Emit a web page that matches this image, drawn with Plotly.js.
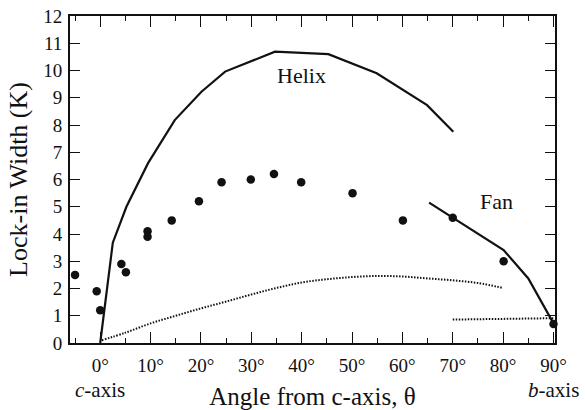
<!DOCTYPE html>
<html>
<head>
<meta charset="utf-8">
<script src="https://cdn.plot.ly/plotly-3.0.1.min.js"></script>
<style>html,body{margin:0;padding:0;background:#fff;}#chart{width:585px;height:410px;}</style>
</head>
<body>
<div id="chart"></div>
<script>
// Measured points (dots)
const dataTheta = [-5, -0.7, 0, 4.2, 5.1, 9.4, 9.4, 14.2, 19.6, 24.1, 29.9, 34.5, 39.9, 50.1, 60.1, 70.0, 80.1, 90.0];
const dataWidth = [2.5, 1.9, 1.2, 2.9, 2.6, 4.1, 3.9, 4.5, 5.2, 5.9, 6.0, 6.2, 5.9, 5.5, 4.5, 4.6, 3.0, 0.7];

// Helix curve (solid)
const helixTheta = [0, 2.5, 5.2, 9.5, 14.8, 20.1, 24.8, 34.7, 45.3, 54.9, 64.9, 70.1];
const helixWidth = [0, 3.68, 5.0, 6.6, 8.18, 9.22, 9.96, 10.69, 10.6, 9.9, 8.73, 7.75];

// Fan curve (solid)
const fanTheta = [65.3, 70.1, 80.1, 85.0, 90.0];
const fanWidth = [5.15, 4.58, 3.41, 2.37, 0.72];

// Dotted curve (long)
const dot1Theta = [0.3, 5, 10, 15, 20, 25, 30, 35, 40, 45, 50, 55, 60, 65, 70, 75, 80];
const dot1Width = [0.1, 0.38, 0.72, 1.0, 1.27, 1.52, 1.78, 2.02, 2.22, 2.34, 2.42, 2.46, 2.44, 2.37, 2.3, 2.2, 2.02];

// Dotted curve (short, near b-axis)
const dot2Theta = [70, 75, 80, 85, 90];
const dot2Width = [0.86, 0.87, 0.88, 0.89, 0.91];

const xTickVals = [0, 10, 20, 30, 40, 50, 60, 70, 80, 90];
const xTickText = ['0°', '10°', '20°', '30°', '40°', '50°', '60°', '70°', '80°', '90°'];

const ink = '#111';
const serif = '"Liberation Serif", "Times New Roman", Times, serif';

const traces = [
  {x: helixTheta, y: helixWidth, mode: 'lines', line: {color: ink, width: 2.2}},
  {x: fanTheta, y: fanWidth, mode: 'lines', line: {color: ink, width: 2.2}},
  {x: dot1Theta, y: dot1Width, mode: 'lines', line: {color: ink, width: 2, dash: '1.5px,1.5px', shape: 'spline'}},
  {x: dot2Theta, y: dot2Width, mode: 'lines', line: {color: ink, width: 2, dash: '1.5px,1.5px'}},
  {x: dataTheta, y: dataWidth, mode: 'markers', marker: {color: ink, size: 8.5}, cliponaxis: false}
];

const axisCommon = {
  showline: true, linecolor: ink, linewidth: 2, mirror: 'allticks',
  ticks: 'inside', tickcolor: ink, tickwidth: 1, showgrid: false, zeroline: false,
  tickfont: {family: serif, size: 19, color: ink}
};

const layout = {
  width: 585, height: 410,
  margin: {l: 70, r: 30, t: 16, b: 67},
  paper_bgcolor: '#fff', plot_bgcolor: '#fff',
  font: {family: serif, color: ink},
  showlegend: false,
  xaxis: Object.assign({}, axisCommon, {
    range: [-6, 90.3], tickmode: 'array', tickvals: xTickVals, ticktext: xTickText, ticklen: 11,
    ticklabelstandoff: 4,
    minor: {tick0: 5, dtick: 10, ticks: 'inside', ticklen: 5, tickcolor: ink, tickwidth: 1},
    title: {text: 'Angle from c-axis, θ', font: {family: serif, size: 25, color: ink}, standoff: 22}
  }),
  yaxis: Object.assign({}, axisCommon, {
    range: [0, 12], dtick: 1, tick0: 0, ticklen: 10, ticklabelstandoff: 2,
    title: {text: 'Lock-in Width (K)', font: {family: serif, size: 26, color: ink}, standoff: 8}
  }),
  annotations: [
    {x: 0, y: 0, xref: 'x', yref: 'paper', text: '<i>c</i>-axis', showarrow: false, yanchor: 'middle', yshift: -47, font: {family: serif, size: 21, color: ink}},
    {x: 90, y: 0, xref: 'x', yref: 'paper', text: '<i>b</i>-axis', showarrow: false, yanchor: 'middle', yshift: -47, font: {family: serif, size: 21, color: ink}},
    {x: 40, y: 9.8, xref: 'x', yref: 'y', text: 'Helix', showarrow: false, font: {family: serif, size: 22, color: ink}},
    {x: 78.6, y: 5.2, xref: 'x', yref: 'y', text: 'Fan', showarrow: false, font: {family: serif, size: 22, color: ink}}
  ]
};

Plotly.newPlot('chart', traces, layout, {displayModeBar: false, staticPlot: true});
</script>
</body>
</html>
